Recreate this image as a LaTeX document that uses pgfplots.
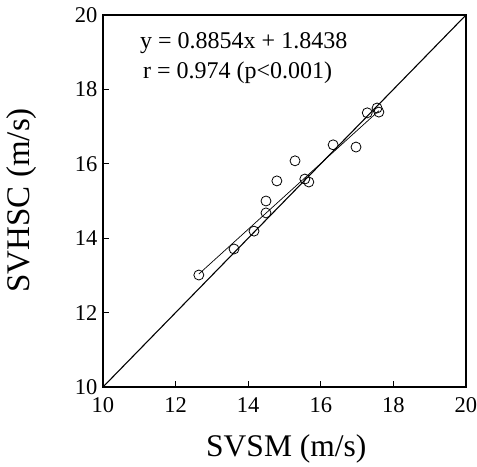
\documentclass[border=0pt]{standalone}
\usepackage{fontspec}
\setmainfont{Liberation Serif}
\usepackage{pgfplots}
\pgfplotsset{compat=1.18}
\usetikzlibrary{calc}
\begin{document}
\begin{tikzpicture}
\begin{axis}[
    name=ax,
    scale only axis,
    width=363pt, height=372pt,
    xmin=10, xmax=20, ymin=10, ymax=20,
    xtick={10,12,14,16,18,20},
    ytick={10,12,14,16,18,20},
    tick align=inside,
    xtick pos=bottom, ytick pos=left,
    major tick length=6pt,
    axis line style={line width=1.2pt},
    tick style={line width=1pt, black},
    ticklabel style={font=\fontsize{22.5}{22.5}\selectfont},
    /pgf/number format/assume math mode=true,
    xticklabel style={yshift=-7pt},
    yticklabel style={xshift=-2pt},
    xlabel={SVSM (m/s)},
    ylabel={SVHSC (m/s)},
    xlabel style={font=\fontsize{31.5}{31.5}\selectfont, at={(axis description cs:0.505,-0.167)}, anchor=center},
    ylabel style={font=\fontsize{33}{33}\selectfont, at={(axis description cs:-0.223,0.502)}, anchor=center},
    clip=false,
]
% 1:1 line
\addplot[black, line width=1.1pt] coordinates {(10,10) (20,20)};
% regression line
\addplot[black, line width=0.7pt] coordinates {(12.64,13.036) (17.60,17.427)};
% data
\addplot[only marks, mark=o, mark size=5pt, mark options={line width=0.8pt, black}] coordinates {
    (12.64,13.01) (13.61,13.71) (14.16,14.19) (14.49,14.68) (14.49,15.00)
    (14.79,15.54) (15.29,16.08) (15.56,15.59) (15.67,15.51) (16.34,16.51)
    (16.97,16.45) (17.28,17.37) (17.55,17.50) (17.60,17.39)
};
\node[anchor=west, font=\fontsize{24}{24}\selectfont, inner sep=0pt] at (axis cs:11.02,19.25) {y = 0.8854x + 1.8438};
\node[anchor=west, font=\fontsize{24}{24}\selectfont, inner sep=0pt] at (axis cs:11.10,18.44) {r = 0.974 (p<0.001)};
\end{axis}
\pgfresetboundingbox
\path[use as bounding box] ($(ax.south west)+(-103pt,-80pt)$) rectangle ($(ax.north east)+(11pt,15pt)$);
\end{tikzpicture}
\end{document}
